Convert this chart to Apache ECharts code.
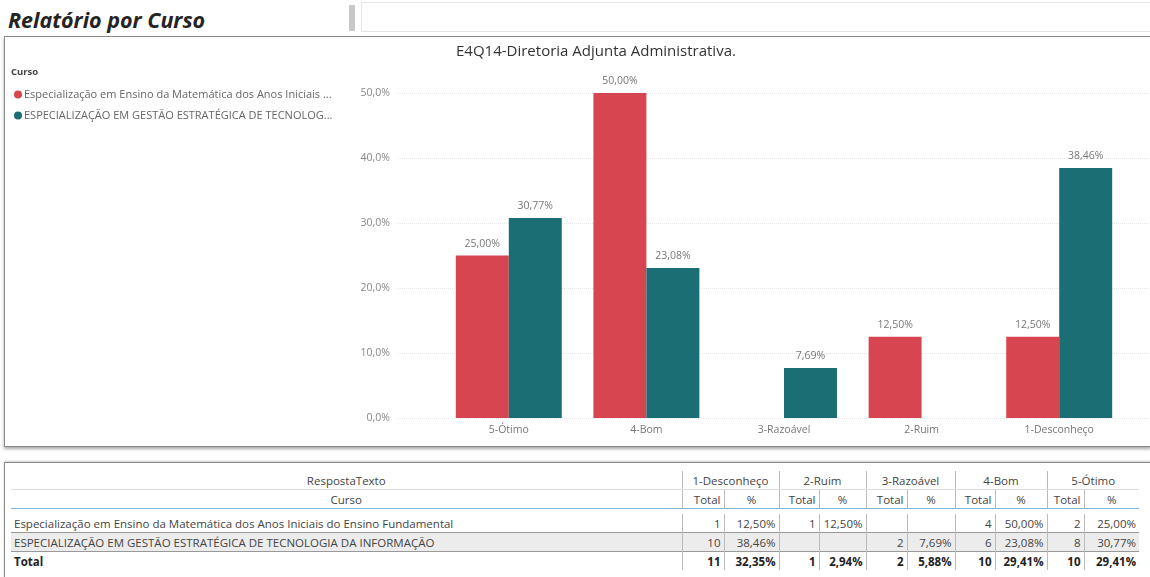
<!DOCTYPE html>
<html><head><meta charset="utf-8">
<script src="https://cdn.jsdelivr.net/npm/echarts@6/dist/echarts.min.js"></script>
<style>
html,body{margin:0;padding:0;background:#fff;width:1150px;height:577px;overflow:hidden;font-family:"Open Sans","Noto Sans",sans-serif;}
#page-title{position:absolute;left:8px;top:5px;font-size:21.5px;font-weight:bold;font-style:italic;color:#252423;font-family:"Open Sans",sans-serif;}
#gbar{position:absolute;left:349px;top:5px;width:6px;height:26px;background:#c8c8c8;}
#tbox{position:absolute;left:361px;top:2px;width:800px;height:28px;border:1px solid #e4e4e4;border-right:none;}
#chartbox{position:absolute;left:4px;top:36px;width:1146px;height:409px;border:1px solid #8a8a8a;border-right:none;box-shadow:0 2px 3px rgba(0,0,0,0.35);}
#chart{position:absolute;left:0;top:0;width:1146px;height:409px;}
#tablebox{position:absolute;left:4px;top:462px;width:1146px;height:120px;border:1px solid #8a8a8a;border-right:none;box-shadow:0 -1px 2px rgba(0,0,0,0.2);}
table{position:absolute;left:6px;top:8px;border-collapse:collapse;font-size:11.5px;color:#444;font-family:"Open Sans",sans-serif;}
td{padding:0 3px;height:18px;line-height:17px;white-space:nowrap;}
</style></head>
<body>
<div id="page-title">Relatório por Curso</div>
<div id="gbar"></div>
<div id="tbox"></div>
<div id="chartbox"><div id="chart"></div></div>
<div id="tablebox"><table id="tbl"></table></div>
<script>
// ---- data ----
var categories = ["5-Ótimo", "4-Bom", "3-Razoável", "2-Ruim", "1-Desconheço"];
var seriesNames = [
  "Especialização em Ensino da Matemática dos Anos Iniciais do Ensino Fundamental",
  "ESPECIALIZAÇÃO EM GESTÃO ESTRATÉGICA DE TECNOLOGIA DA INFORMAÇÃO"
];
var matematicaPct = [25.00, 50.00, null, 12.50, 12.50];
var tecnologiaPct = [30.77, 23.08, 7.69, null, 38.46];
var yTicks = [0, 10, 20, 30, 40, 50];

// table data (column order: 1-Desconheço .. 5-Ótimo)
var tableCategories = ["1-Desconheço", "2-Ruim", "3-Razoável", "4-Bom", "5-Ótimo"];
var matematicaTotal = [1, 1, null, 4, 2];
var matematicaTblPct = ["12,50%", "12,50%", "", "50,00%", "25,00%"];
var tecnologiaTotal = [10, null, 2, 6, 8];
var tecnologiaTblPct = ["38,46%", "", "7,69%", "23,08%", "30,77%"];
var totalTotal = [11, 1, 2, 10, 10];
var totalTblPct = ["32,35%", "2,94%", "5,88%", "29,41%", "29,41%"];

var colors = ["#D64550", "#1B6E74"];

function fmt(v, d) { return v.toFixed(d).replace(".", ","); }

var chart = echarts.init(document.getElementById('chart'), null, {renderer: 'canvas'});
var labelCfg = {
  show: true, position: 'top', distance: 6, color: '#777', fontSize: 10.5,
  fontFamily: 'Open Sans',
  formatter: function (p) { return fmt(p.value, 2) + '%'; }
};
chart.setOption({
  animation: false,
  title: {
    text: 'E4Q14-Diretoria Adjunta Administrativa.',
    left: 446, top: 2,
    textStyle: {fontSize: 15, fontWeight: 'normal', color: '#333', fontFamily: 'Open Sans'}
  },
  legend: [{
    left: 4, top: 47, orient: 'vertical', itemGap: 10,
    icon: 'circle', itemWidth: 8, itemHeight: 8,
    data: seriesNames,
    textStyle: {fontSize: 11, color: '#666', fontFamily: 'Open Sans', width: 322, overflow: 'truncate', ellipsis: '...', padding: [0, 0, 0, -3]}
  }],
  graphic: [{
    type: 'text', left: 6, top: 30,
    style: {text: 'Curso', fontSize: 9.5, fontWeight: 'bold', fill: '#444', fontFamily: 'Open Sans'}
  }],
  grid: [
    {left: 393, right: 0, top: 56, bottom: 28},
    {left: 435, right: 23, top: 56, bottom: 28}
  ],
  xAxis: [
    {type: 'category', gridIndex: 0, data: categories, show: false},
    {type: 'category', gridIndex: 1, data: categories,
     axisLine: {show: false}, axisTick: {show: false},
     axisLabel: {color: '#777', fontSize: 10.5, margin: 7, fontFamily: 'Open Sans'}}
  ],
  yAxis: [
    {type: 'value', gridIndex: 0, min: yTicks[0], max: yTicks[yTicks.length - 1], interval: 10,
     axisLabel: {color: '#888', fontSize: 10.5, margin: 8, fontFamily: 'Open Sans',
       formatter: function (v) { return fmt(v, 1) + '%'; }},
     splitLine: {lineStyle: {color: '#e6e6e6', type: 'dotted', width: 1}},
     axisLine: {show: false}, axisTick: {show: false}},
    {type: 'value', gridIndex: 1, min: yTicks[0], max: yTicks[yTicks.length - 1], interval: 10, show: false,
     splitLine: {show: false}}
  ],
  series: [
    {name: seriesNames[0], type: 'bar', xAxisIndex: 1, yAxisIndex: 1, data: matematicaPct,
     itemStyle: {color: colors[0]}, barGap: '0%', barCategoryGap: '23%', label: labelCfg},
    {name: seriesNames[1], type: 'bar', xAxisIndex: 1, yAxisIndex: 1, data: tecnologiaPct,
     itemStyle: {color: colors[1]}, barGap: '0%', barCategoryGap: '23%', label: labelCfg}
  ]
});

// ---- table ----
var colW = [671, 42, 55, 40, 47, 41, 48, 40, 52, 37, 55];
var tbl = document.getElementById('tbl');
var html = '<colgroup>' + colW.map(function (w) { return '<col style="width:' + w + 'px">'; }).join('') + '</colgroup>';
var vb = 'border-left:1px solid #bbb;';
html += '<tr><td style="text-align:center;border-bottom:1px solid #ddd">RespostaTexto</td>';
tableCategories.forEach(function (c) { html += '<td colspan="2" style="text-align:center;' + vb + 'border-bottom:1px solid #ddd">' + c + '</td>'; });
html += '</tr><tr style="border-bottom:1px solid #7fb3d5"><td style="text-align:center">Curso</td>';
tableCategories.forEach(function () { html += '<td style="text-align:right;' + vb + '">Total</td><td style="text-align:center;' + vb + '">%</td>'; });
html += '</tr>';
function row(name, totals, pcts, style, bold) {
  var s = '<tr style="' + style + '"><td style="' + (bold ? 'font-weight:bold;color:#222' : '') + '">' + name + '</td>';
  for (var i = 0; i < totals.length; i++) {
    var b = bold ? 'font-weight:bold;color:#222;' : '';
    s += '<td style="text-align:right;' + vb + b + '">' + (totals[i] == null ? '' : totals[i]) + '</td>';
    s += '<td style="text-align:right;' + vb + b + '">' + pcts[i] + '</td>';
  }
  return s + '</tr>';
}
html += '<tr style="height:5px"><td colspan="11" style="height:5px;line-height:5px"></td></tr>';
html += row(seriesNames[0], matematicaTotal, matematicaTblPct, 'border-bottom:1px solid #999', false);
html += row(seriesNames[1], tecnologiaTotal, tecnologiaTblPct, 'background:#ececec;border-bottom:1px solid #999', false);
html += row('Total', totalTotal, totalTblPct, '', true);
tbl.innerHTML = html;
</script>
</body></html>
